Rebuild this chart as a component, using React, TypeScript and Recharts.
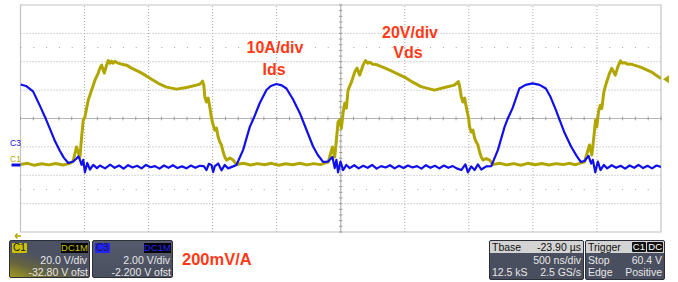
import React from 'react';
import { LineChart, Line, XAxis, YAxis, ReferenceLine, ReferenceArea, ReferenceDot } from 'recharts';

// ---- Data (time in ns from left edge) ----
const vdsTimeNs = [0, 55, 110, 165, 220, 275, 330, 380, 410, 437, 449, 464, 477, 490, 503, 516, 529, 550, 568, 581, 607, 620, 633, 654, 672, 685, 698, 711, 722, 737, 761, 789, 828, 867, 932, 979, 1036, 1088, 1140, 1218, 1296, 1374, 1400, 1421, 1431, 1439, 1452, 1465, 1478, 1491, 1504, 1517, 1530, 1543, 1556, 1569, 1582, 1595, 1608, 1622, 1634, 1660, 1686, 1740, 1795, 1850, 1905, 1960, 2015, 2070, 2125, 2180, 2235, 2290, 2340, 2375, 2402, 2435, 2453, 2466, 2479, 2492, 2505, 2518, 2531, 2544, 2557, 2583, 2609, 2627, 2648, 2674, 2693, 2711, 2726, 2750, 2778, 2828, 2882, 2947, 2997, 3062, 3126, 3231, 3309, 3387, 3418, 3428, 3441, 3454, 3467, 3480, 3498, 3506, 3519, 3532, 3545, 3558, 3571, 3584, 3597, 3610, 3636, 3662, 3688, 3740, 3795, 3850, 3905, 3960, 4015, 4070, 4125, 4180, 4235, 4290, 4330, 4364, 4403, 4442, 4460, 4476, 4489, 4499, 4512, 4526, 4538, 4554, 4572, 4598, 4616, 4643, 4663, 4684, 4700, 4715, 4739, 4767, 4845, 4923, 5000];
const vdsVolts = [0.4, 1.2, -0.2, 0.9, 0.1, 1.1, 0, 1.0, 2.5, 12.7, 9.2, 5.6, 19.7, 31.7, 33.8, 40.1, 45.8, 51.4, 56.3, 59.8, 64.8, 68.3, 70.4, 64.8, 70.4, 73.6, 71.8, 73.2, 71.8, 73.2, 71.8, 71.1, 70.4, 68.3, 65.5, 63.0, 59.8, 57.0, 54.9, 53.5, 54.6, 56.3, 57.0, 59.1, 56.3, 47.9, 44.4, 47.2, 40.8, 33.1, 28.2, 24.6, 26.0, 19.7, 16.2, 14.1, 9.2, 5.6, 3.5, 4.2, 4.9, 3.5, 0.4, 1.3, 0, 1.0, 0.2, 1.2, -0.1, 0.9, 0.2, 1.3, 0.1, 1.0, 0.3, 1.4, 2.1, 12.7, 5.6, 17.6, 30.3, 31.7, 26.0, 36.6, 43.6, 40.1, 52.8, 58.4, 65.5, 68.3, 63.4, 70.4, 73.6, 71.8, 72.5, 71.1, 70.8, 69.0, 66.9, 64.1, 62.0, 58.4, 55.3, 52.8, 54.6, 56.3, 58.8, 55.6, 47.9, 44.4, 47.2, 40.8, 33.1, 26.8, 23.2, 24.6, 19.0, 16.2, 14.1, 9.2, 5.6, 3.5, 4.6, 3.5, 0.4, 1.2, 0.1, 1.0, -0.1, 1.2, 0.2, 1.1, 0, 1.0, 0.3, 1.2, 0.2, 1.2, 2.3, 14.1, 7.0, 19.9, 31.7, 27.0, 37.5, 42.2, 39.9, 51.6, 57.5, 64.6, 68.1, 63.4, 69.2, 73.4, 71.8, 72.2, 71.1, 71.1, 68.8, 65.7, 61.0];

const idsTimeNs = [0, 43, 98, 152, 191, 230, 269, 308, 339, 373, 412, 433, 451, 464, 477, 490, 503, 521, 542, 568, 597, 620, 660, 700, 735, 770, 805, 840, 875, 910, 945, 980, 1015, 1050, 1085, 1120, 1155, 1190, 1225, 1260, 1295, 1330, 1365, 1400, 1431, 1452, 1470, 1491, 1504, 1517, 1543, 1569, 1595, 1621, 1660, 1686, 1738, 1790, 1821, 1868, 1920, 1954, 1998, 2040, 2076, 2126, 2180, 2227, 2284, 2321, 2362, 2401, 2435, 2453, 2466, 2479, 2498, 2518, 2544, 2570, 2605, 2640, 2675, 2710, 2745, 2780, 2815, 2850, 2885, 2920, 2955, 2990, 3025, 3060, 3095, 3130, 3165, 3200, 3235, 3270, 3305, 3340, 3375, 3405, 3441, 3473, 3493, 3519, 3545, 3571, 3597, 3636, 3675, 3727, 3779, 3803, 3842, 3894, 3943, 3998, 4052, 4101, 4138, 4179, 4247, 4298, 4341, 4374, 4403, 4434, 4455, 4468, 4487, 4507, 4528, 4554, 4580, 4615, 4650, 4685, 4720, 4755, 4790, 4825, 4860, 4895, 4930, 4965, 5000];
const idsAmps = [28.3, 27.8, 25.9, 20.8, 16.9, 12.7, 8.4, 4.9, 2.5, 0.7, 1.2, 2.1, 3.0, 1.8, 0, 1.8, -2.6, 0.7, -1.6, 0, -1.1, -0.2, -1.2, 0.1, -1.0, -0.2, -1.3, -0.1, -0.9, -0.3, -1.2, 0, -0.8, -0.4, -1.3, -0.2, -1.0, -0.1, -1.1, -0.5, -1.2, -0.2, -1.0, -0.3, -0.4, -1.8, 0.4, 0, -2.5, -0.4, 0.5, -1.9, 0, -1.2, -0.5, 0, 5.3, 13.4, 16.5, 21.8, 26.4, 27.8, 28.5, 28.0, 26.9, 23.2, 18.3, 13.0, 6.5, 3.5, 1.1, 1.2, 2.8, -1.1, 1.8, -2.6, 1.2, -1.8, 0, -1.1, -0.1, -1.2, -0.3, -1.0, 0, -1.3, -0.4, -0.9, -0.1, -1.2, -0.3, -1.1, -0.2, -0.9, -0.4, -1.3, -0.1, -1.0, -0.3, -1.2, -0.2, -1.0, -0.4, -1.2, -1.8, 0.2, -2.6, -0.5, -1.8, 0.2, -1.6, -0.5, -0.4, 5.3, 13.4, 16.2, 20.1, 26.9, 28.2, 28.7, 28.2, 26.9, 23.9, 19.4, 11.3, 6.5, 3.2, 1.1, 1.4, 3.2, 0.5, 1.8, -2.6, 1.2, -1.8, 0, -1.2, -0.1, -1.0, -0.3, -1.3, -0.2, -1.0, 0, -1.1, -0.3, -1.2, -0.2, -0.7];

// ---- Scope settings ----
const timeDivTicks = [0, 500, 1000, 1500, 2000, 2500, 3000, 3500, 4000, 4500, 5000];
const vdsDivTicks = [-47.2, -27.2, -7.2, 12.8, 32.8, 52.8, 72.8, 92.8, 112.8];
const vdsDomain = [-47.2, 112.8];
const idsDomain = [-23.6, 56.3];
const centerTime = 2500;
const centerVolts = 32.8;
const subRowVolts = [82.8, -17.2];
const triggerLevelVolts = 60.4;

const c1Info = { name: 'C1', coupling: 'DC1M', scale: '20.0 V/div', offset: '-32.80 V ofst' };
const c3Info = { name: 'C3', coupling: 'DC1M', scale: '2.00 V/div', offset: '-2.200 V ofst' };
const tbaseInfo = { title: 'Tbase', delay: '-23.90 µs', scale: '500 ns/div', samples: '12.5 kS', rate: '2.5 GS/s' };
const triggerInfo = { title: 'Trigger', src: 'C1', cpl: 'DC', mode: 'Stop', level: '60.4 V', type: 'Edge', slope: 'Positive' };

const vdsData = vdsTimeNs.map((t, i) => ({ t, v: vdsVolts[i] }));
const idsData = idsTimeNs.map((t, i) => ({ t, a: idsAmps[i] }));

const minorTimeTicks: number[] = [];
for (let k = 0; k <= 50; k++) minorTimeTicks.push(k * 100);
const minorVoltTicks: number[] = [];
for (let k = 0; k <= 40; k++) minorVoltTicks.push(-47.2 + k * 4);

const YELLOW = '#b1a600';
const BLUE = '#1010ea';
const RED = '#ff3a17';
const FONT = '"Liberation Sans", Arial, sans-serif';

const TriggerArrow = (props: any) => {
  const { cx, cy } = props;
  return <path d={`M${cx + 2},${cy} L${cx + 8},${cy - 4} L${cx + 8},${cy + 4} Z`} fill={YELLOW} />;
};

const boxBase: React.CSSProperties = {
  position: 'absolute', top: 240, height: 38, boxSizing: 'border-box',
  border: '1px solid #2c2f38', borderRadius: 2, fontFamily: FONT, fontSize: 10.5, color: '#e6e6e6', overflow: 'hidden',
};

const ChannelBox = ({ left, info, color, bg }: { left: number; info: typeof c1Info; color: string; bg: string }) => (
  <div style={{ ...boxBase, left, width: 81, background: bg }}>
    <div style={{ position: 'absolute', left: 2, top: 2, width: 15, height: 10, background: color, color: '#1a1a1a', fontSize: 10, lineHeight: '10px', textAlign: 'center', borderRadius: 1 }}>{info.name}</div>
    <div style={{ position: 'absolute', right: 1, top: 2, width: 27, height: 10, background: '#050505', color, fontSize: 9.5, lineHeight: '10px', textAlign: 'center' }}>{info.coupling}</div>
    <div style={{ position: 'absolute', right: 2, top: 13, lineHeight: '12px' }}>{info.scale}</div>
    <div style={{ position: 'absolute', right: 1, top: 25, lineHeight: '12px' }}>{info.offset}</div>
  </div>
);

export default function App() {
  return (
    <div style={{ position: 'fixed', left: 0, top: 0, width: 678, height: 282, background: '#ffffff', overflow: 'hidden' }}>
      <LineChart width={678} height={282} margin={{ top: 5, left: 20.5, right: 17, bottom: 50 }}>
        <XAxis type="number" dataKey="t" domain={[0, 5000]} ticks={timeDivTicks} hide allowDataOverflow />
        <YAxis yAxisId="v" type="number" domain={vdsDomain} ticks={vdsDivTicks} hide allowDataOverflow />
        <YAxis yAxisId="i" type="number" domain={idsDomain} hide allowDataOverflow />
        {timeDivTicks.slice(1, -1).filter((t) => t !== centerTime).map((t) => (
          <ReferenceLine key={'gx' + t} x={t} yAxisId="v" stroke="#a9a9a9" strokeDasharray="1 2" />
        ))}
        {vdsDivTicks.slice(1, -1).filter((v) => v !== centerVolts).map((v) => (
          <ReferenceLine key={'gy' + v} y={v} yAxisId="v" stroke="#a9a9a9" strokeDasharray="1 2" />
        ))}
        {subRowVolts.map((v) => (
          <ReferenceLine key={'sr' + v} y={v} yAxisId="v" stroke="#a0a0a0" strokeDasharray="1 11.8" />
        ))}
        <ReferenceLine x={centerTime} yAxisId="v" stroke="#b5b5b5" strokeWidth={1.2} />
        <ReferenceLine y={centerVolts} yAxisId="v" stroke="#b5b5b5" strokeWidth={1.2} />
        {minorTimeTicks.map((t) => (
          <ReferenceLine key={'mt' + t} yAxisId="v" stroke="#9a9a9a" segment={[{ x: t, y: centerVolts - 1.3 }, { x: t, y: centerVolts + 1.3 }]} />
        ))}
        {minorVoltTicks.map((v) => (
          <ReferenceLine key={'mv' + v} yAxisId="v" stroke="#9a9a9a" segment={[{ x: centerTime - 13, y: v }, { x: centerTime + 13, y: v }]} />
        ))}
        <ReferenceArea x1={0} x2={5000} y1={vdsDomain[0]} y2={vdsDomain[1]} yAxisId="v" fill="none" stroke="#c4c4c4" strokeWidth={1.2} />
        <Line data={vdsData} dataKey="v" yAxisId="v" type="linear" stroke={YELLOW} strokeWidth={3} strokeLinejoin="round" dot={false} isAnimationActive={false} />
        <Line data={idsData} dataKey="a" yAxisId="i" type="linear" stroke={BLUE} strokeWidth={2.2} strokeLinejoin="round" dot={false} isAnimationActive={false} />
        <ReferenceDot x={5000} y={triggerLevelVolts} yAxisId="v" ifOverflow="visible" shape={TriggerArrow} />
      </LineChart>

      <svg width={678} height={282} style={{ position: 'absolute', left: 0, top: 0, pointerEvents: 'none' }}>
        <g fontFamily={FONT} fontWeight="bold" fill={RED} fontSize={16}>
          <text x={275} y={53} textAnchor="middle">10A/div</text>
          <text x={274} y={75} textAnchor="middle">Ids</text>
          <text x={410} y={38} textAnchor="middle">20V/div</text>
          <text x={408} y={58} textAnchor="middle">Vds</text>
          <text x={182} y={265} fontSize={16.5}>200mV/A</text>
        </g>
        <text x={10} y={146} fontFamily={FONT} fontSize={8.5} fill={BLUE}>C3</text>
        <text x={10} y={162} fontFamily={FONT} fontSize={8.5} fill={YELLOW}>C1</text>
        <rect x={11.5} y={163.5} width={9} height={3} fill={BLUE} />
        <path d="M15,236 L21,236 M15,236 L17.5,233.5 M15,236 L17.5,238.5" stroke={YELLOW} strokeWidth={1.3} fill="none" />
      </svg>

      <ChannelBox left={9} info={c1Info} color="#c8c000" bg="linear-gradient(20deg, #a39b1e 0%, #66643e 25%, #4d5263 50%, #4d5263 100%)" />
      <ChannelBox left={92} info={c3Info} color="#2323ff" bg="linear-gradient(180deg, #555b6c 0%, #4a4f5f 100%)" />

      <div style={{ ...boxBase, left: 489, width: 95, background: '#4a4f5f', height: 40 }}>
        <div style={{ position: 'absolute', left: 0, top: 0, right: 0, height: 12, background: '#d3d3d3', color: '#111' }}>
          <span style={{ position: 'absolute', left: 2, top: 0, lineHeight: '12px' }}>{tbaseInfo.title}</span>
          <span style={{ position: 'absolute', right: 2, top: 0, lineHeight: '12px' }}>{tbaseInfo.delay}</span>
        </div>
        <span style={{ position: 'absolute', right: 2, top: 13, lineHeight: '12px' }}>{tbaseInfo.scale}</span>
        <span style={{ position: 'absolute', left: 2, top: 25, lineHeight: '12px' }}>{tbaseInfo.samples}</span>
        <span style={{ position: 'absolute', right: 2, top: 25, lineHeight: '12px' }}>{tbaseInfo.rate}</span>
      </div>
      <div style={{ ...boxBase, left: 585, width: 80, background: '#4a4f5f', height: 40 }}>
        <div style={{ position: 'absolute', left: 0, top: 0, right: 0, height: 12, background: '#d3d3d3', color: '#111' }}>
          <span style={{ position: 'absolute', left: 2, top: 0, lineHeight: '12px' }}>{triggerInfo.title}</span>
          <span style={{ position: 'absolute', right: 18, top: 1, height: 10, lineHeight: '10px', background: '#111', color: '#fff', padding: '0 1px', fontSize: 9.5, borderRadius: 1 }}>{triggerInfo.src}</span>
          <span style={{ position: 'absolute', right: 1, top: 1, height: 10, lineHeight: '10px', background: '#111', color: '#fff', padding: '0 1px', fontSize: 9.5, borderRadius: 1 }}>{triggerInfo.cpl}</span>
        </div>
        <span style={{ position: 'absolute', left: 2, top: 13, lineHeight: '12px' }}>{triggerInfo.mode}</span>
        <span style={{ position: 'absolute', right: 2, top: 13, lineHeight: '12px' }}>{triggerInfo.level}</span>
        <span style={{ position: 'absolute', left: 2, top: 25, lineHeight: '12px' }}>{triggerInfo.type}</span>
        <span style={{ position: 'absolute', right: 2, top: 25, lineHeight: '12px' }}>{triggerInfo.slope}</span>
      </div>
    </div>
  );
}
